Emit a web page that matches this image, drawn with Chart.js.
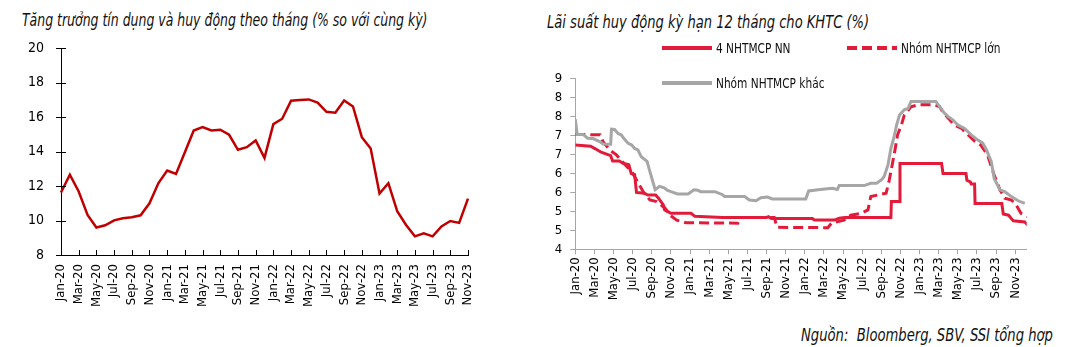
<!DOCTYPE html>
<html>
<head>
<meta charset="utf-8">
<script src="https://cdn.jsdelivr.net/npm/chart.js@4"></script>
<style>
  body { margin: 0; background: #fff; width: 1070px; height: 347px; overflow: hidden; position: relative;
         font-family: 'Liberation Sans Narrow', 'Arial Narrow', 'DejaVu Sans Condensed', sans-serif; color: #111; }
  .title { position: absolute; font-style: italic; font-size: 17px; white-space: nowrap; transform-origin: left center; }
  .box { position: absolute; top: 0; height: 320px; }
  .legend { position: absolute; font-size: 14px; white-space: nowrap; display: flex; align-items: center; }
  .legend svg { margin-right: 4px; }
  .legend span { display: inline-block; transform: scaleX(0.84); transform-origin: left center; }
  .source { position: absolute; right: 17px; top: 325px; font-style: italic; font-size: 17px; white-space: pre;
            transform: scaleX(0.86); transform-origin: right center; }
</style>
</head>
<body>
<div class="title" style="left:22px;top:10px;transform:scaleX(0.816)">Tăng trưởng tín dụng và huy động theo tháng (% so với cùng kỳ)</div>
<div class="title" style="left:547px;top:12px;transform:scaleX(0.855)">Lãi suất huy động kỳ hạn 12 tháng cho KHTC (%)</div>

<div class="box" style="left:0;width:535px"><canvas id="creditChart"></canvas></div>
<div class="box" style="left:540px;width:530px"><canvas id="rateChart"></canvas></div>

<div class="legend" style="left:662px;top:40px">
  <svg width="50" height="6"><line x1="0" y1="3" x2="50" y2="3" stroke="#e31b3b" stroke-width="4"/></svg><span>4 NHTMCP NN</span>
</div>
<div class="legend" style="left:847px;top:40px">
  <svg width="50" height="6"><line x1="0" y1="3" x2="50" y2="3" stroke="#e31b3b" stroke-width="4" stroke-dasharray="10 5"/></svg><span>Nhóm NHTMCP lớn</span>
</div>
<div class="legend" style="left:662px;top:75px">
  <svg width="50" height="6"><line x1="0" y1="3" x2="50" y2="3" stroke="#a6a6a6" stroke-width="4"/></svg><span>Nhóm NHTMCP khác</span>
</div>

<div class="source">Nguồn:  Bloomberg, SBV, SSI tổng hợp</div>

<script>
const months = [
  'Jan-20', 'Feb-20', 'Mar-20', 'Apr-20', 'May-20', 'Jun-20', 'Jul-20', 'Aug-20', 'Sep-20', 'Oct-20', 'Nov-20', 'Dec-20',
  'Jan-21', 'Feb-21', 'Mar-21', 'Apr-21', 'May-21', 'Jun-21', 'Jul-21', 'Aug-21', 'Sep-21', 'Oct-21', 'Nov-21', 'Dec-21',
  'Jan-22', 'Feb-22', 'Mar-22', 'Apr-22', 'May-22', 'Jun-22', 'Jul-22', 'Aug-22', 'Sep-22', 'Oct-22', 'Nov-22', 'Dec-22',
  'Jan-23', 'Feb-23', 'Mar-23', 'Apr-23', 'May-23', 'Jun-23', 'Jul-23', 'Aug-23', 'Sep-23', 'Oct-23', 'Nov-23'
]

// tang truong tin dung, % yoy
const creditGrowth = [
  11.62, 12.65, 11.68, 10.32, 9.59, 9.72, 10.01, 10.13, 10.19, 10.30, 11.00, 12.16,
  12.90, 12.70, 13.96, 15.22, 15.41, 15.22, 15.26, 14.97, 14.10, 14.25, 14.64, 13.63,
  15.59, 15.90, 16.94, 16.98, 17.02, 16.83, 16.30, 16.25, 16.96, 16.61, 14.83, 14.17,
  11.56, 12.16, 10.54, 9.74, 9.08, 9.26, 9.08, 9.65, 9.97, 9.86, 11.27
]

// lai suat 12 thang: [thang tinh tu Jan-20, %]
const stateBanks = [
  [0, 6.75], [1.6, 6.72], [2.1, 6.65], [2.7, 6.56], [3.7, 6.47], [3.9, 6.33], [4.6, 6.33], [5.0, 6.27],
  [5.6, 6.23], [5.85, 6.0], [6.2, 5.97], [6.4, 5.5], [7.2, 5.48], [7.6, 5.43], [8.4, 5.43], [8.7, 5.35],
  [9.2, 5.17], [9.35, 5.04], [10.0, 4.95], [12.1, 4.95], [12.5, 4.87], [15.4, 4.84], [20.0, 4.84],
  [20.2, 4.86], [20.5, 4.81], [24.8, 4.81], [25.0, 4.77], [27.1, 4.77], [27.6, 4.82], [28.2, 4.84],
  [33.0, 4.84], [33.05, 5.26], [33.9, 5.26], [33.95, 6.26], [38.3, 6.26], [38.45, 6.0], [40.85, 6.0],
  [40.95, 5.82], [41.3, 5.78], [41.4, 5.72], [41.75, 5.72], [41.8, 5.21], [44.6, 5.21], [44.75, 4.93],
  [45.3, 4.9], [45.8, 4.75], [47.0, 4.72], [47.3, 4.64]
]

const largeBanks = [
  [0, 7.03], [2.6, 7.02], [2.9, 6.84], [3.6, 6.62], [4.3, 6.49], [5.4, 6.18], [5.9, 6.05], [6.4, 5.83],
  [7.1, 5.52], [7.8, 5.3], [8.5, 5.26], [9.4, 5.08], [9.9, 4.9], [10.6, 4.77], [11.6, 4.7], [17.0, 4.69],
  [17.3, 4.84], [20.8, 4.84], [21.1, 4.58], [26.4, 4.57], [26.8, 4.69], [28.1, 4.77], [28.8, 4.9],
  [29.9, 4.95], [30.6, 5.04], [30.9, 5.39], [31.6, 5.43], [32.5, 5.48], [32.8, 5.79], [33.0, 6.05],
  [33.4, 6.58], [33.7, 7.02], [34.1, 7.28], [34.4, 7.54], [35.1, 7.76], [35.8, 7.81], [37.6, 7.81],
  [38.1, 7.76], [38.4, 7.63], [39.0, 7.46], [39.6, 7.28], [40.4, 7.19], [41.05, 7.02], [41.8, 6.84],
  [42.4, 6.75], [43.1, 6.49], [43.8, 5.96], [44.4, 5.57], [44.9, 5.35], [45.6, 5.3], [46.1, 5.17],
  [46.6, 4.95], [47.3, 4.86]
]

const otherBanks = [
  [0, 7.43], [0.2, 7.03], [0.8, 7.03], [1.3, 6.93], [1.85, 6.92], [2.55, 6.84], [2.9, 6.78], [3.7, 6.77],
  [3.78, 7.17], [4.1, 7.16], [4.5, 7.05], [4.8, 7.02], [5.0, 6.95], [5.5, 6.8], [5.9, 6.75], [6.2, 6.66],
  [6.55, 6.62], [6.9, 6.44], [7.5, 6.32], [7.8, 6.05], [8.35, 5.57], [8.8, 5.66], [9.3, 5.62], [9.6, 5.56],
  [10.0, 5.52], [10.7, 5.46], [11.8, 5.46], [12.4, 5.57], [12.8, 5.56], [13.1, 5.52], [14.6, 5.52],
  [15.4, 5.44], [15.6, 5.39], [17.7, 5.39], [18.2, 5.3], [18.9, 5.28], [19.4, 5.36], [20.1, 5.38],
  [20.6, 5.33], [24.1, 5.33], [24.4, 5.54], [25.4, 5.57], [26.1, 5.59], [26.9, 5.61], [27.4, 5.58],
  [27.6, 5.68], [30.2, 5.68], [30.9, 5.74], [31.5, 5.74], [32.0, 5.83], [32.3, 5.92], [32.7, 6.23],
  [33.0, 6.66], [33.3, 6.93], [33.6, 7.28], [33.9, 7.54], [34.4, 7.68], [34.8, 7.72], [35.1, 7.9],
  [37.7, 7.9], [38.1, 7.76], [38.6, 7.59], [39.0, 7.5], [39.5, 7.41], [40.0, 7.28], [40.7, 7.19],
  [41.4, 7.02], [42.1, 6.88], [42.6, 6.8], [43.0, 6.62], [43.5, 6.31], [43.8, 5.87], [44.4, 5.57],
  [44.9, 5.52], [45.6, 5.39], [46.3, 5.28], [47.0, 5.21]
]

const FONT = "'Liberation Sans Narrow', 'Arial Narrow', 'DejaVu Sans Condensed', sans-serif"
Chart.defaults.font.family = FONT
Chart.defaults.color = '#000'

// nhan truc x: 2 thang mot lan, Jan-20 .. Nov-23
const everyOtherMonth = (scale) => {
  scale.ticks = months.map((m, i) => i).filter(i => i % 2 === 0).map(i => ({ value: i }))
}

// tick marks crossing the axes, like the excel original
const crossTicks = {
  id: 'crossTicks',
  afterDatasetsDraw(chart, args, opts) {
    const { ctx, chartArea, scales: { x, y } } = chart
    ctx.save()
    ctx.strokeStyle = opts.color
    ctx.lineWidth = 1
    ctx.beginPath()
    x.ticks.forEach((t, i) => {
      const px = Math.round(x.getPixelForTick(i)) + 0.5
      ctx.moveTo(px, chartArea.bottom)
      ctx.lineTo(px, chartArea.bottom - 5)
    })
    y.ticks.forEach((t, i) => {
      const py = Math.round(y.getPixelForTick(i)) + 0.5
      ctx.moveTo(chartArea.left - 5, py)
      ctx.lineTo(chartArea.left + 5, py)
    })
    ctx.stroke()
    ctx.restore()
  }
}

new Chart(document.getElementById('creditChart'), {
  type: 'line',
  data: {
    labels: months,
    datasets: [{
      data: creditGrowth,
      borderColor: '#c00000',
      borderWidth: 2.5,
      pointRadius: 0,
      tension: 0
    }]
  },
  plugins: [crossTicks],
  options: {
    responsive: true,
    maintainAspectRatio: false,
    animation: false,
    devicePixelRatio: 1,
    layout: { padding: { top: 48, right: 67, left: 0, bottom: 0 } },
    plugins: {
      legend: { display: false },
      tooltip: { enabled: false },
      crossTicks: { color: '#000' }
    },
    scales: {
      x: {
        offset: false,
        afterBuildTicks: everyOtherMonth,
        afterFit: (s) => { s.height = 65 },
        grid: { display: false, drawTicks: false },
        border: { display: true, color: '#000', width: 1 },
        ticks: { autoSkip: false, minRotation: 90, maxRotation: 90, padding: 9, font: { size: 13 } }
      },
      y: {
        min: 8,
        max: 20,
        afterFit: (s) => { s.width = 61 },
        grid: { display: false, drawTicks: false },
        border: { display: true, color: '#000', width: 1 },
        ticks: { stepSize: 2, padding: 17, font: { size: 14 } }
      }
    }
  }
})

const toPoints = (pairs) => pairs.map(([m, r]) => ({ x: m, y: r }))

new Chart(document.getElementById('rateChart'), {
  type: 'line',
  data: {
    datasets: [
      {
        label: 'Nhóm NHTMCP khác',
        data: toPoints(otherBanks),
        borderColor: '#a6a6a6',
        borderWidth: 3,
        pointRadius: 0,
        order: 0
      },
      {
        label: 'Nhóm NHTMCP lớn',
        data: toPoints(largeBanks),
        borderColor: '#e31b3b',
        borderWidth: 3,
        borderDash: [10, 5],
        pointRadius: 0,
        order: 1
      },
      {
        label: '4 NHTMCP NN',
        data: toPoints(stateBanks),
        borderColor: '#e31b3b',
        borderWidth: 3,
        pointRadius: 0,
        order: 2
      }
    ]
  },
  options: {
    responsive: true,
    maintainAspectRatio: false,
    animation: false,
    devicePixelRatio: 1,
    layout: { padding: { top: 78.7, right: 43.3, left: 0, bottom: 0 } },
    plugins: {
      legend: { display: false },
      tooltip: { enabled: false }
    },
    scales: {
      x: {
        type: 'linear',
        min: 0,
        max: 47.2,
        afterBuildTicks: everyOtherMonth,
        afterFit: (s) => { s.height = 70.7 },
        grid: { drawOnChartArea: false, drawTicks: true, tickLength: 5, color: '#a6a6a6' },
        border: { display: true, color: '#a6a6a6', width: 1 },
        ticks: {
          autoSkip: false,
          minRotation: 90,
          maxRotation: 90,
          padding: 3,
          font: { size: 13 },
          callback: (v) => months[v]
        }
      },
      y: {
        min: 4,
        max: 8.5,
        afterFit: (s) => { s.width = 35.3 },
        grid: { drawOnChartArea: false, drawTicks: true, tickLength: 5, color: '#a6a6a6' },
        border: { display: true, color: '#a6a6a6', width: 1 },
        ticks: { stepSize: 0.5, autoSkip: false, padding: 8, font: { size: 13 }, callback: (v) => Math.round(v) }
      }
    }
  }
})
</script>
</body>
</html>
